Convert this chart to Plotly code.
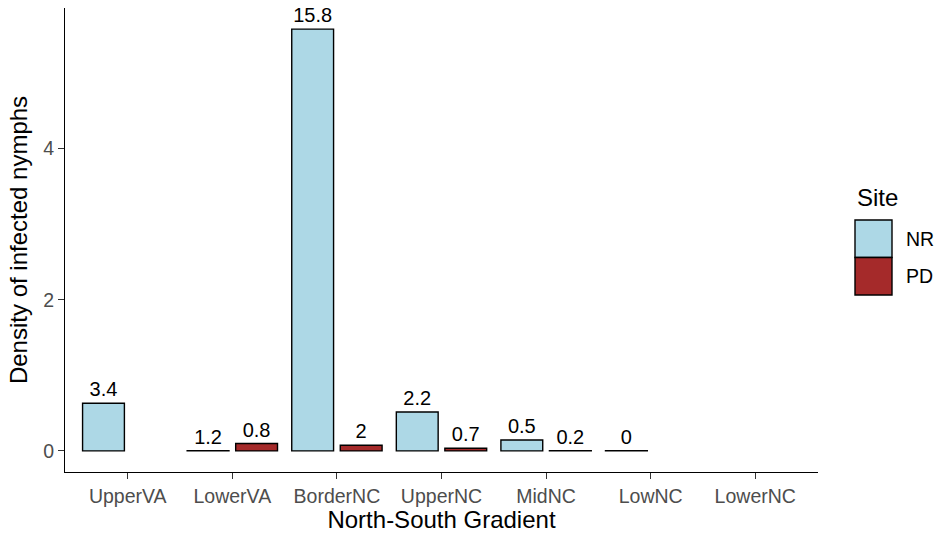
import plotly.graph_objects as go

# Sampling sites along the north-south gradient
regions = ["UpperVA", "LowerVA", "BorderNC", "UpperNC", "MidNC", "LowNC", "LowerNC"]

# Density of infected nymphs per site type (None = not sampled)
nr_density = [0.63, 0.003, 5.58, 0.515, 0.145, 0.003, None]
pd_density = [None, 0.098, 0.075, 0.036, 0.003, None, None]

# Values printed above each bar
nr_labels = [3.4, 1.2, 15.8, 2.2, 0.5, 0, None]
pd_labels = [None, 0.8, 2, 0.7, 0.2, None, None]

site_names = ["NR", "PD"]
site_colors = ["#ADD8E6", "#A52A2A"]

FONT = "Liberation Sans"
W, H = 935, 536
L, R, T, B = 65, 818, 8, 472
OUTLINE = 1.4


def px_x(p):
    return (p - L) / (R - L)


def px_y(p):
    return (B - p) / (B - T)


def fmt(v):
    return "" if v is None else f"{v:g}"


fig = go.Figure()
for name, dens, labs, col in zip(site_names, [nr_density, pd_density],
                                 [nr_labels, pd_labels], site_colors):
    fig.add_trace(go.Bar(
        name=name, x=regions, y=dens,
        marker=dict(color=col, line=dict(color="black", width=OUTLINE)),
        text=[fmt(v) for v in labs],
        textposition="outside",
        textfont=dict(family=FONT, size=20, color="black"),
        constraintext="none",
        cliponaxis=False,
        showlegend=False,
    ))

# ggplot-style expansion of the y range
ymax = max(v for v in nr_density + pd_density if v is not None)
yrange = [-0.05 * ymax, 1.05 * ymax]

axis_common = dict(
    showline=True, linecolor="black", linewidth=1.2,
    ticks="outside", ticklen=6, tickwidth=1.2, tickcolor="#333333",
    tickfont=dict(family=FONT, size=19.5, color="#4D4D4D"),
    showgrid=False, zeroline=False,
)

fig.update_layout(
    width=W, height=H,
    margin=dict(l=L, r=W - R, t=T, b=H - B, pad=0),
    plot_bgcolor="white", paper_bgcolor="white",
    barmode="group", bargap=0.072, bargroupgap=0.138,
    font=dict(family=FONT),
    xaxis=dict(range=[-0.6, 6.6], title=dict(text="North-South Gradient",
               font=dict(family=FONT, size=24, color="black"), standoff=4),
               **axis_common),
    yaxis=dict(range=yrange, tickvals=[0, 2, 4],
               title=dict(text="Density of infected nymphs",
                          font=dict(family=FONT, size=24, color="black"), standoff=8),
               **axis_common),
)

# Legend drawn as boxed keys to the right of the panel
key_top = 220
key_h = 37.5
shapes = []
annotations = [dict(text="Site", x=px_x(855), y=px_y(198), xref="paper", yref="paper",
                    xanchor="left", yanchor="middle", showarrow=False,
                    font=dict(family=FONT, size=24, color="black"))]
for i, (name, col) in enumerate(zip(site_names, site_colors)):
    y0 = key_top + i * key_h
    shapes.append(dict(type="rect", xref="paper", yref="paper",
                       x0=px_x(855), x1=px_x(892), y0=px_y(y0 + key_h), y1=px_y(y0),
                       fillcolor=col, line=dict(color="black", width=OUTLINE)))
    annotations.append(dict(text=name, x=px_x(904), y=px_y(y0 + key_h / 2),
                            xref="paper", yref="paper", xanchor="left", yanchor="middle",
                            showarrow=False, font=dict(family=FONT, size=19.5, color="black")))
fig.update_layout(shapes=shapes, annotations=annotations)

fig.write_html("out.html")
